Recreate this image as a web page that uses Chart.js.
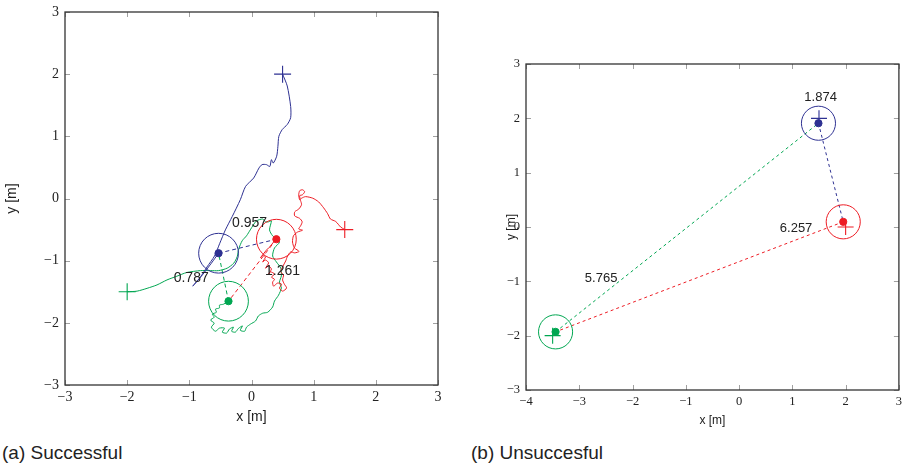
<!DOCTYPE html>
<html>
<head>
<meta charset="utf-8">
<script src="https://cdn.jsdelivr.net/npm/chart.js@4.4.1/dist/chart.umd.min.js"></script>
<style>
  body { margin: 0; background: #fff; width: 908px; height: 464px; position: relative; overflow: hidden; }
  canvas { position: absolute; top: 0; }
  #left { left: 0; }
  #right { left: 460px; }
  .cap { position: absolute; top: 443px; font: 19px/1 "Liberation Sans", Arial, sans-serif; color: #222; white-space: nowrap; }
</style>
</head>
<body>
<canvas id="left" width="460" height="430"></canvas>
<canvas id="right" width="448" height="432"></canvas>
<div class="cap" style="left:2px">(a) Successful</div>
<div class="cap" style="left:471px">(b) Unsuccesful</div>
<script>
// robot colours: blue, red, green
var robotColors = ['#2e3192', '#ed1c24', '#00a651'];
var safetyRadius = 0.32; // m

// --- (a) successful run ---
var blueTrackA = [
  [0.50, 2.00], [0.575, 1.81], [0.63, 1.48], [0.63, 1.30], [0.575, 1.19], [0.495, 1.11],
  [0.44, 1.00], [0.425, 0.84], [0.405, 0.68], [0.35, 0.57], [0.32, 0.625], [0.295, 0.515],
  [0.24, 0.545], [0.17, 0.545], [0.12, 0.49], [0.035, 0.33], [-0.095, 0.195], [-0.18, -0.02],
  [-0.31, -0.29], [-0.42, -0.505], [-0.51, -0.72], [-0.595, -0.925], [-0.715, -1.10],
  [-0.82, -1.26], [-0.945, -1.41], [-0.79, -1.23], [-0.645, -1.04], [-0.53, -0.88]
];
var redTrackA = [
  [1.50, -0.50], [1.435, -0.46], [1.355, -0.37], [1.27, -0.33], [1.225, -0.245], [1.16, -0.15],
  [1.08, -0.055], [0.985, 0.005], [0.87, 0.03], [0.805, 0.005], [0.775, -0.02], [0.76, 0.06],
  [0.775, 0.125], [0.82, 0.14], [0.855, 0.11], [0.82, 0.06], [0.775, 0.045], [0.79, -0.035],
  [0.805, -0.10], [0.76, -0.17], [0.695, -0.215], [0.695, -0.28], [0.775, -0.32], [0.815, -0.375],
  [0.79, -0.44], [0.76, -0.49], [0.82, -0.51], [0.74, -0.54], [0.675, -0.60], [0.66, -0.70],
  [0.69, -0.795], [0.765, -0.85], [0.695, -0.875], [0.63, -0.86], [0.58, -0.925], [0.55, -1.005],
  [0.50, -1.10], [0.47, -1.18], [0.515, -1.23], [0.50, -1.31], [0.53, -1.38], [0.565, -1.44],
  [0.50, -1.49], [0.45, -1.44], [0.485, -1.38], [0.42, -1.36], [0.355, -1.41], [0.34, -1.345],
  [0.37, -1.30], [0.32, -1.265], [0.37, -1.215], [0.305, -1.18], [0.275, -1.215], [0.32, -1.135],
  [0.275, -1.085], [0.225, -1.12], [0.275, -1.035], [0.225, -0.99], [0.18, -1.02], [0.225, -0.94],
  [0.18, -0.91], [0.145, -0.955], [0.24, -0.83], [0.305, -0.765], [0.355, -0.70], [0.40, -0.655]
];
var greenTrackA = [
  [-2.00, -1.50], [-1.84, -1.49], [-1.68, -1.445], [-1.52, -1.39], [-1.36, -1.31], [-1.20, -1.25],
  [-1.04, -1.19], [-0.82, -1.16], [-0.66, -1.16], [-0.53, -1.16], [-0.39, -1.12], [-0.285, -1.04],
  [-0.23, -0.935], [-0.205, -0.81], [-0.15, -0.68], [-0.08, -0.60], [-0.02, -0.505], [0.03, -0.425],
  [0.08, -0.36], [0.18, -0.33], [0.225, -0.375], [0.275, -0.375], [0.32, -0.36], [0.29, -0.505],
  [0.34, -0.60], [0.45, -0.70], [0.37, -0.795], [0.34, -0.925], [0.40, -1.02], [0.47, -1.12],
  [0.48, -1.245], [0.45, -1.345], [0.48, -1.44], [0.435, -1.555], [0.37, -1.65], [0.34, -1.745],
  [0.26, -1.83], [0.18, -1.845], [0.11, -1.89], [0.065, -1.97], [-0.015, -2.02], [-0.08, -2.07],
  [-0.11, -2.135], [-0.18, -2.12], [-0.145, -2.05], [-0.21, -2.09], [-0.26, -2.15], [-0.32, -2.135],
  [-0.29, -2.07], [-0.355, -2.10], [-0.40, -2.165], [-0.47, -2.15], [-0.435, -2.085], [-0.515, -2.085],
  [-0.58, -2.135], [-0.645, -2.07], [-0.60, -2.005], [-0.66, -1.955], [-0.60, -1.91], [-0.63, -1.86],
  [-0.565, -1.83], [-0.58, -1.78], [-0.515, -1.76], [-0.515, -1.715], [-0.45, -1.70], [-0.37, -1.652]
];
var startA = [[0.5, 2.0], [1.5, -0.5], [-2.0, -1.5]];
var finalA = [[-0.53, -0.88], [0.40, -0.655], [-0.37, -1.652]];
var distTextA = ['0.957', '0.787', '1.261'];
var distAtA = [[-0.03, -0.39], [-0.97, -1.28], [0.50, -1.17]];

// --- (b) unsuccessful run ---
var startB = [[1.5, 2.0], [2.0, 0.0], [-3.5, -2.0]];
var finalB = [[1.49, 1.91], [1.955, 0.095], [-3.445, -1.93]];
var distTextB = ['1.874', '6.257', '5.765'];
var distAtB = [[1.53, 2.39], [1.07, -0.02], [-2.59, -0.94]];

// axis ranges / tick values
var xTicksA = [-3, -2, -1, 0, 1, 2, 3];
var yTicksA = [-3, -2, -1, 0, 1, 2, 3];
var xTicksB = [-4, -3, -2, -1, 0, 1, 2, 3];
var yTicksB = [-3, -2, -1, 0, 1, 2, 3];

function pts(arr) { return arr.map(function(p) { return {x: p[0], y: p[1]}; }); }
function minus(v) { return v < 0 ? '\u2212' + Math.abs(v) : String(v); }

// box with inward ticks on all four sides
var framePlugin = {
  id: 'frame',
  afterDatasetsDraw: function(chart) {
    var ctx = chart.ctx, a = chart.chartArea, sx = chart.scales.x, sy = chart.scales.y;
    ctx.save();
    ctx.strokeStyle = '#a0a0a0';
    ctx.lineWidth = 1;
    ctx.beginPath();
    sx.ticks.forEach(function(t) {
      var p = Math.round(sx.getPixelForValue(t.value)) + 0.5;
      ctx.moveTo(p, a.top); ctx.lineTo(p, a.top + 5);
      ctx.moveTo(p, a.bottom); ctx.lineTo(p, a.bottom - 5);
    });
    sy.ticks.forEach(function(t) {
      var p = Math.round(sy.getPixelForValue(t.value)) + 0.5;
      ctx.moveTo(a.left, p); ctx.lineTo(a.left + 5, p);
      ctx.moveTo(a.right, p); ctx.lineTo(a.right - 5, p);
    });
    ctx.stroke();
    ctx.strokeStyle = '#333';
    ctx.lineWidth = 1.3;
    ctx.strokeRect(a.left, a.top, a.right - a.left, a.bottom - a.top);
    ctx.restore();
  }
};

// distance labels placed in data coordinates
var distPlugin = {
  id: 'distLabels',
  afterDatasetsDraw: function(chart, args, opts) {
    var ctx = chart.ctx, sx = chart.scales.x, sy = chart.scales.y;
    ctx.save();
    ctx.font = opts.font;
    ctx.fillStyle = '#222';
    ctx.textAlign = 'center';
    ctx.textBaseline = 'middle';
    opts.text.forEach(function(t, i) {
      ctx.fillText(t, sx.getPixelForValue(opts.at[i][0]), sy.getPixelForValue(opts.at[i][1]));
    });
    ctx.restore();
  }
};

function makePlot(id, s) {
  var ds = [];
  // robot positions (filled dots)
  ds.push({ data: pts(s.finals), showLine: false, pointRadius: 3.6, pointStyle: 'circle',
    pointBackgroundColor: robotColors, pointBorderColor: robotColors, pointBorderWidth: 1 });
  // goals (crosses)
  ds.push({ data: pts(s.starts), showLine: false, pointStyle: 'cross', pointRadius: s.crossR,
    pointBorderColor: robotColors, pointBorderWidth: 1.1 });
  // safety circles, radius in metres via the x scale
  ds.push({ data: pts(s.finals), showLine: false, pointStyle: 'circle',
    pointRadius: function(c) {
      var sx = c.chart.scales.x;
      return sx.getPixelForValue(safetyRadius) - sx.getPixelForValue(0);
    },
    pointBackgroundColor: 'rgba(0,0,0,0)', pointBorderColor: robotColors, pointBorderWidth: 1 });
  // dashed links between robots: blue-red, red-green, green-blue
  [[0, 1, 0], [1, 2, 1], [2, 0, 2]].forEach(function(l) {
    ds.push({ data: pts([s.finals[l[0]], s.finals[l[1]]]), showLine: true, pointRadius: 0,
      borderColor: robotColors[l[2]], borderWidth: 1, borderDash: s.dash, tension: 0 });
  });
  // trajectories
  s.tracks.forEach(function(tr, i) {
    ds.push({ data: pts(tr), showLine: true, pointRadius: 0, borderColor: robotColors[i],
      borderWidth: 1, tension: 0.25 });
  });

  var tickFont = { family: "'Liberation Serif', 'DejaVu Serif', serif", size: s.tickSize };
  var titleFont = { family: "'Liberation Sans', Arial, sans-serif", size: s.titleSize };

  return new Chart(document.getElementById(id), {
    type: 'scatter',
    data: { datasets: ds },
    options: {
      responsive: false,
      animation: false,
      events: [],
      layout: { padding: s.pad },
      plugins: {
        legend: { display: false },
        tooltip: { enabled: false },
        distLabels: { text: s.distText, at: s.distAt, font: s.labelFont }
      },
      scales: {
        x: {
          type: 'linear', min: s.xTicks[0], max: s.xTicks[s.xTicks.length - 1],
          afterBuildTicks: function(sc) { sc.ticks = s.xTicks.map(function(v) { return {value: v}; }); },
          grid: { display: false, drawTicks: false }, border: { display: false },
          ticks: { color: '#222', font: tickFont, padding: 4, maxRotation: 0, autoSkip: false, callback: minus },
          title: { display: true, text: 'x [m]', color: '#222', font: titleFont, padding: 4 },
          afterFit: function(sc) { sc.height = s.xAxisH; sc.paddingLeft = 0; sc.paddingRight = 0; }
        },
        y: {
          type: 'linear', min: s.yTicks[0], max: s.yTicks[s.yTicks.length - 1],
          afterBuildTicks: function(sc) { sc.ticks = s.yTicks.map(function(v) { return {value: v}; }); },
          grid: { display: false, drawTicks: false }, border: { display: false },
          ticks: { color: '#222', font: tickFont, padding: 6, autoSkip: false, callback: minus },
          title: { display: true, text: 'y [m]', color: '#222', font: titleFont, padding: 4 },
          afterFit: function(sc) { sc.width = s.yAxisW; sc.paddingTop = 0; sc.paddingBottom = 0; }
        }
      }
    },
    plugins: [framePlugin, distPlugin]
  });
}

makePlot('left', {
  tracks: [blueTrackA, redTrackA, greenTrackA],
  starts: startA, finals: finalA,
  distText: distTextA, distAt: distAtA,
  xTicks: xTicksA, yTicks: yTicksA,
  pad: { left: 0, right: 22, top: 12, bottom: 0 },
  yAxisW: 65, xAxisH: 45,
  crossR: 8.5, dash: [4, 3],
  tickSize: 14, titleSize: 14, labelFont: "14px 'Liberation Sans', Arial, sans-serif"
});

makePlot('right', {
  tracks: [],
  starts: startB, finals: finalB,
  distText: distTextB, distAt: distAtB,
  xTicks: xTicksB, yTicks: yTicksB,
  pad: { left: 40, right: 1, top: 64, bottom: 0 },
  yAxisW: 26, xAxisH: 42,
  crossR: 8, dash: [3, 3],
  tickSize: 12.5, titleSize: 12, labelFont: "13px 'Liberation Sans', Arial, sans-serif"
});
</script>
</body>
</html>
